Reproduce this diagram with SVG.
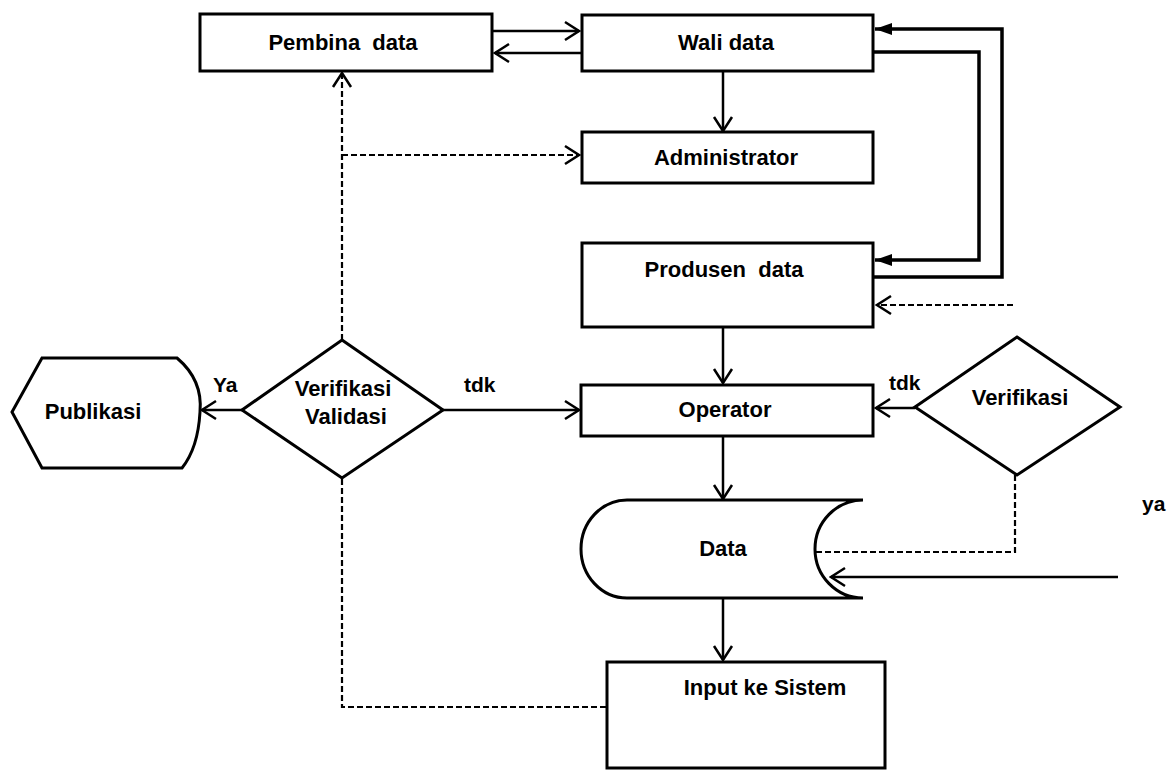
<svg xmlns="http://www.w3.org/2000/svg" width="1176" height="773" viewBox="0 0 1176 773">
  <style>
    .shape { fill: #fff; stroke: #000; stroke-width: 3; }
    .lbl { font-family: "Liberation Sans", Arial, sans-serif; font-weight: bold; font-size: 22px; fill: #000; text-anchor: middle; }
    .side { font-family: "Liberation Sans", Arial, sans-serif; font-weight: bold; font-size: 21px; fill: #000; }
    .line { fill: none; stroke: #000; stroke-width: 2.5; }
    .dash { fill: none; stroke: #000; stroke-width: 2.2; stroke-dasharray: 6 3; }
    .thick { fill: none; stroke: #000; stroke-width: 3.5; }
  </style>
  <defs>
    <marker id="open" markerUnits="userSpaceOnUse" markerWidth="18" markerHeight="22" viewBox="0 0 18 22" refX="16" refY="11" orient="auto">
      <path d="M2,2 L16,11 L2,20" fill="none" stroke="#000" stroke-width="2.5"/>
    </marker>
    <marker id="solid" markerUnits="userSpaceOnUse" markerWidth="18" markerHeight="14" viewBox="0 0 18 14" refX="17" refY="7" orient="auto">
      <path d="M0,1 L17,7 L0,13 Z" fill="#000"/>
    </marker>
  </defs>
  <rect width="1176" height="773" fill="#fff"/>

  <!-- connectors -->
  <g id="connectors">
    <!-- Pembina data <-> Wali data -->
    <line class="line" x1="492" y1="31" x2="579" y2="31" marker-end="url(#open)"/>
    <line class="line" x1="582" y1="53" x2="495" y2="53" marker-end="url(#open)"/>
    <!-- Wali data -> Administrator -->
    <line class="line" x1="723" y1="71" x2="723" y2="131" marker-end="url(#open)"/>
    <!-- routed thick lines on the right -->
    <polyline class="thick" points="873,277 1002,277 1002,29 875,29" marker-end="url(#solid)"/>
    <polyline class="thick" points="873,52 979,52 979,260 875,260" marker-end="url(#solid)"/>
    <!-- dashed into Produsen data -->
    <line class="dash" x1="1013" y1="305" x2="877" y2="305" marker-end="url(#open)"/>
    <!-- Produsen data -> Operator -->
    <line class="line" x1="723" y1="327" x2="723" y2="383" marker-end="url(#open)"/>
    <!-- Operator -> Data -->
    <line class="line" x1="723" y1="436" x2="723" y2="499" marker-end="url(#open)"/>
    <!-- Data -> Input ke Sistem -->
    <line class="line" x1="723" y1="598" x2="723" y2="660" marker-end="url(#open)"/>
    <!-- Verifikasi Validasi: tdk -> Operator -->
    <line class="line" x1="443" y1="410" x2="579" y2="410" marker-end="url(#open)"/>
    <!-- Verifikasi Validasi: Ya -> Publikasi -->
    <line class="line" x1="242" y1="410" x2="202" y2="410" marker-end="url(#open)"/>
    <!-- Verifikasi Validasi -> Pembina data / Administrator -->
    <line class="dash" x1="342" y1="340" x2="342" y2="73" marker-end="url(#open)"/>
    <line class="dash" x1="342" y1="155" x2="579" y2="155" marker-end="url(#open)"/>
    <!-- Input ke Sistem -> Verifikasi Validasi -->
    <polyline class="dash" points="606,707 342,707 342,478"/>
    <!-- Verifikasi: tdk -> Operator -->
    <line class="line" x1="915" y1="408" x2="876" y2="408" marker-end="url(#open)"/>
    <!-- Verifikasi: ya -> Data -->
    <polyline class="dash" points="1015,475 1015,552 816,552"/>
    <line class="line" x1="1118" y1="577" x2="831" y2="577" marker-end="url(#open)"/>
  </g>

  <g id="pembina">
    <rect class="shape" x="200" y="14" width="292" height="57"/>
    <text class="lbl" x="343" y="50" xml:space="preserve">Pembina  data</text>
  </g>
  <g id="wali">
    <rect class="shape" x="582" y="15" width="291" height="56"/>
    <text class="lbl" x="726" y="50">Wali data</text>
  </g>
  <g id="administrator">
    <rect class="shape" x="582" y="132" width="291" height="51"/>
    <text class="lbl" x="726" y="165">Administrator</text>
  </g>
  <g id="produsen">
    <rect class="shape" x="582" y="243" width="291" height="84"/>
    <text class="lbl" x="724" y="277" xml:space="preserve">Produsen  data</text>
  </g>
  <g id="operator">
    <rect class="shape" x="581" y="385" width="292" height="51"/>
    <text class="lbl" x="725" y="417">Operator</text>
  </g>
  <g id="data">
    <path class="shape" d="M627,500 L863,500 A48,49 0 0 0 863,598 L627,598 A46,49 0 0 1 627,500 Z"/>
    <text class="lbl" x="723" y="556">Data</text>
  </g>
  <g id="input">
    <rect class="shape" x="607" y="662" width="278" height="106"/>
    <text class="lbl" x="765" y="695">Input ke Sistem</text>
  </g>
  <g id="verval">
    <polygon class="shape" points="342,340 443,410 342,478 242,410"/>
    <text class="lbl" x="343" y="396">Verifikasi</text>
    <text class="lbl" x="346" y="424">Validasi</text>
  </g>
  <g id="publikasi">
    <path class="shape" d="M42,358 L177,358 Q203,380 200,412 Q198,448 182,468 L42,468 L12,412 Z"/>
    <text class="lbl" x="93" y="419">Publikasi</text>
  </g>
  <g id="verifikasi">
    <polygon class="shape" points="1017,337 1120,407 1017,475 915,407"/>
    <text class="lbl" x="1020" y="405">Verifikasi</text>
  </g>

  <!-- branch labels -->
  <g id="labels">
    <text class="side" x="213" y="392">Ya</text>
    <text class="side" x="464" y="392">tdk</text>
    <text class="side" x="889" y="390">tdk</text>
    <text class="side" x="1142" y="511">ya</text>
  </g>
</svg>
